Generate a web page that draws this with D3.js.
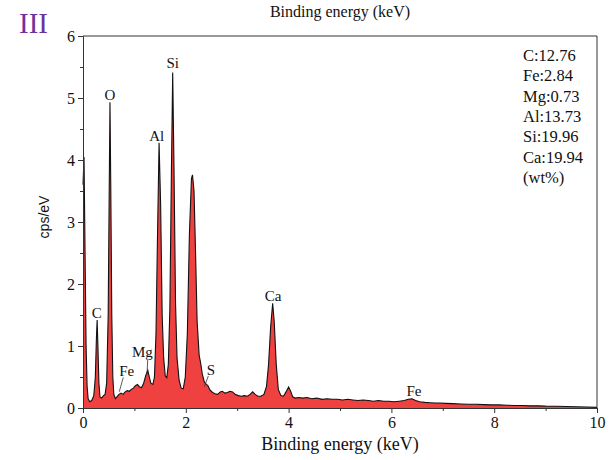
<!DOCTYPE html>
<html><head><meta charset="utf-8">
<script src="https://cdn.jsdelivr.net/npm/d3@7"></script>
<style>body{margin:0;background:#fff}svg{display:block}</style>
</head><body>
<script>
const energy = [0.00,0.02,0.04,0.06,0.08,0.10,0.13,0.17,0.21,0.24,0.26,0.275,0.29,0.31,0.33,0.36,0.40,0.43,0.46,0.49,0.51,0.525,0.54,0.56,0.58,0.60,0.63,0.66,0.70,0.74,0.78,0.82,0.86,0.90,0.94,0.98,1.02,1.06,1.10,1.14,1.18,1.22,1.26,1.29,1.32,1.36,1.39,1.42,1.45,1.48,1.51,1.54,1.57,1.60,1.63,1.66,1.69,1.72,1.745,1.77,1.80,1.83,1.87,1.91,1.95,1.99,2.03,2.07,2.11,2.13,2.16,2.19,2.22,2.26,2.29,2.32,2.36,2.40,2.43,2.47,2.52,2.57,2.62,2.67,2.71,2.76,2.81,2.86,2.91,2.96,3.02,3.08,3.14,3.20,3.25,3.30,3.35,3.40,3.46,3.52,3.57,3.61,3.65,3.69,3.72,3.76,3.80,3.85,3.90,3.95,4.00,4.04,4.08,4.13,4.20,4.28,4.36,4.45,4.55,4.65,4.75,4.85,4.95,5.05,5.15,5.25,5.35,5.45,5.55,5.65,5.75,5.85,5.95,6.05,6.15,6.25,6.33,6.40,6.47,6.55,6.65,6.75,6.85,6.95,7.05,7.2,7.35,7.5,7.65,7.8,7.95,8.1,8.25,8.4,8.55,8.7,8.85,9.0,9.2,9.4,9.6,9.8,10.0];
const counts = [3.6,4.05,2.5,1.0,0.35,0.15,0.10,0.12,0.2,0.5,1.1,1.42,1.0,0.4,0.18,0.16,0.2,0.22,0.4,1.5,3.5,4.93,3.6,1.5,0.5,0.22,0.15,0.18,0.22,0.24,0.22,0.26,0.28,0.27,0.3,0.32,0.36,0.38,0.34,0.33,0.40,0.52,0.61,0.50,0.40,0.38,0.50,1.2,2.8,4.28,3.3,1.5,0.8,0.52,0.49,0.7,1.6,3.8,5.41,3.9,1.7,0.8,0.45,0.32,0.31,0.5,1.2,2.8,3.7,3.76,3.5,2.5,1.4,0.85,0.72,0.55,0.42,0.38,0.36,0.29,0.25,0.23,0.22,0.26,0.27,0.24,0.25,0.27,0.26,0.22,0.20,0.19,0.20,0.19,0.22,0.26,0.22,0.19,0.19,0.22,0.35,0.7,1.3,1.69,1.4,0.7,0.3,0.2,0.19,0.26,0.34,0.27,0.18,0.16,0.17,0.16,0.17,0.15,0.16,0.14,0.15,0.14,0.14,0.13,0.14,0.13,0.12,0.13,0.12,0.11,0.12,0.11,0.11,0.10,0.11,0.12,0.14,0.15,0.12,0.10,0.09,0.085,0.08,0.08,0.075,0.07,0.065,0.06,0.06,0.055,0.05,0.05,0.045,0.04,0.04,0.035,0.035,0.03,0.028,0.025,0.02,0.015,0.01];

const xTicks = [0,2,4,6,8,10];
const xMinor = [1,3,5,7,9];
const yTicks = [0,1,2,3,4,5,6];
const yMinor = [0.5,1.5,2.5,3.5,4.5,5.5];

// peak labels: element, energy, value at label baseline
const peakNames = ["C","O","Al","Si","Ca","Fe"];
const peakE     = [0.266,0.525,1.434,1.745,3.70,6.44];
const peakV     = [1.45,4.97,4.31,5.49,1.73,0.19];
// leader-line labels
const leadNames = ["Fe","Mg","S"];
const leadTextE = [0.85,1.154,2.49];
const leadTextV = [0.515,0.823,0.54];
const leadFromE = [0.784,1.259,2.438];
const leadFromV = [0.495,0.774,0.516];
const leadToE   = [0.706,1.245,2.36];
const leadToV   = [0.263,0.532,0.344];

const compLines = ["C:12.76","Fe:2.84","Mg:0.73","Al:13.73","Si:19.96","Ca:19.94","(wt%)"];

const W = 614, H = 460;
const m = {l:83, r:17, t:36, b:52};
const svg = d3.select("body").append("svg").attr("width",W).attr("height",H);
const x = d3.scaleLinear().domain([0,10]).range([m.l, W-m.r]);
const y = d3.scaleLinear().domain([0,6]).range([H-m.b, m.t]);
const serif = "'Liberation Serif','Times New Roman',serif";

const pts = energy.map((e,i)=>[e,counts[i]]);
svg.append("path").datum(pts)
  .attr("d", d3.area().x(d=>x(d[0])).y0(y(0)).y1(d=>y(d[1])))
  .attr("fill","#f04141");
svg.append("path").datum(pts)
  .attr("d", d3.line().x(d=>x(d[0])).y(d=>y(d[1])))
  .attr("fill","none").attr("stroke","#111").attr("stroke-width",1.1);

// frame
svg.append("path").attr("d",`M${x(0)},${y(6)}H${x(10)}V${y(0)}`).attr("fill","none").attr("stroke","#333").attr("stroke-width",1);

// axes
svg.append("g").attr("transform",`translate(0,${y(0)})`)
  .call(d3.axisBottom(x).tickValues(xTicks).tickSize(5).tickPadding(4).tickFormat(d3.format("d")));
svg.append("g").attr("transform",`translate(0,${y(0)})`)
  .call(d3.axisBottom(x).tickValues(xMinor).tickSize(3).tickFormat(""))
  .call(g=>g.select(".domain").remove());
svg.append("g").attr("transform",`translate(${x(0)},0)`)
  .call(d3.axisLeft(y).tickValues(yTicks).tickSize(5).tickPadding(3).tickFormat(d3.format("d")));
svg.append("g").attr("transform",`translate(${x(0)},0)`)
  .call(d3.axisLeft(y).tickValues(yMinor).tickSize(3).tickFormat(""))
  .call(g=>g.select(".domain").remove());
svg.selectAll(".tick line").attr("stroke","#333");
svg.selectAll(".domain").attr("stroke","#333");
svg.selectAll(".tick text").attr("font-family",serif).attr("font-size",16).attr("fill","#111");

svg.append("text").attr("x",(x(0)+x(10))/2).attr("y",450).attr("text-anchor","middle")
  .attr("font-family",serif).attr("font-size",18).attr("fill","#111").text("Binding energy (keV)");
svg.append("text").attr("x",(x(0)+x(10))/2).attr("y",17).attr("text-anchor","middle")
  .attr("font-family",serif).attr("font-size",16).attr("fill","#111").text("Binding energy (keV)");
svg.append("text").attr("transform",`translate(49,217) rotate(-90)`).attr("text-anchor","middle")
  .attr("font-family","'Liberation Sans',Arial,sans-serif").attr("font-size",14).attr("fill","#111").text("cps/eV");
svg.append("text").attr("x",19).attr("y",33).attr("font-family",serif).attr("font-size",29)
  .attr("fill","#7030a0").text("III");

peakNames.forEach((n,i)=>{
  svg.append("text").attr("x",x(peakE[i])).attr("y",y(peakV[i])).attr("text-anchor","middle")
    .attr("font-family",serif).attr("font-size",15).attr("fill","#111").text(n);
});
leadNames.forEach((n,i)=>{
  svg.append("text").attr("x",x(leadTextE[i])).attr("y",y(leadTextV[i])).attr("text-anchor","middle")
    .attr("font-family",serif).attr("font-size",15).attr("fill","#111").text(n);
  svg.append("line").attr("x1",x(leadFromE[i])).attr("y1",y(leadFromV[i]))
    .attr("x2",x(leadToE[i])).attr("y2",y(leadToV[i])).attr("stroke","#333").attr("stroke-width",0.8);
});
compLines.forEach((t,i)=>{
  svg.append("text").attr("x",523).attr("y",61+i*20.3).attr("font-family",serif).attr("font-size",16.5)
    .attr("fill","#111").text(t);
});
</script>
</body></html>
